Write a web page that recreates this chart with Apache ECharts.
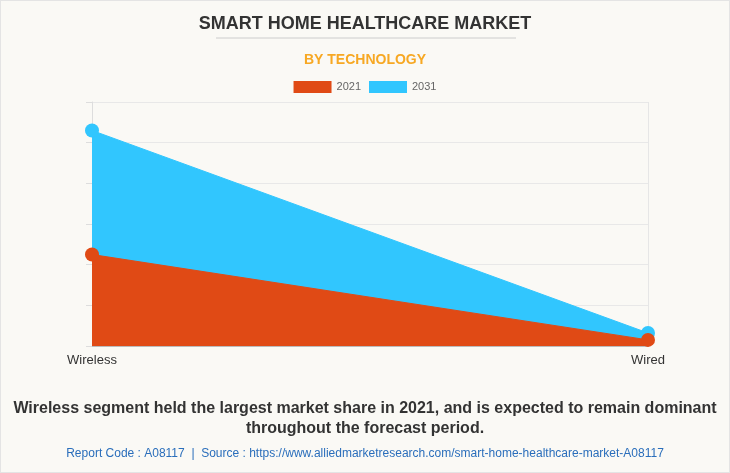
<!DOCTYPE html>
<html>
<head>
  <meta charset="utf-8">
  <title>Smart Home Healthcare Market</title>
  <script src="https://cdn.jsdelivr.net/npm/echarts@6/dist/echarts.min.js"></script>
  <style>
    html, body { margin: 0; padding: 0; background: #fff; }
    #chart { width: 730px; height: 473px; box-sizing: border-box; border: 1px solid #e4e4e4; background: #faf9f5; }
  </style>
</head>
<body>
  <div id="chart"></div>
  <script>
    // data (no y labels, arbitrary units)
    var categories = ['Wireless', 'Wired'];
    var values2021 = [2.25, 0.15];
    var values2031 = [5.3, 0.32];
    var seriesNames = ['2021', '2031'];

    var chart = echarts.init(document.getElementById('chart'));
    var font = '"Liberation Sans", Arial, sans-serif';

    var option = {
      backgroundColor: '#faf9f5',
      title: [
        {
          text: 'SMART HOME HEALTHCARE MARKET',
          left: 'center', top: 9,
          textStyle: { fontFamily: font, fontSize: 18, fontWeight: 'bold', color: '#333' }
        },
        {
          text: 'BY TECHNOLOGY',
          left: 'center', top: 47,
          textStyle: { fontFamily: font, fontSize: 14, fontWeight: 'bold', color: '#f7a823' }
        }
      ],
      legend: {
        data: seriesNames,
        top: 75, left: 'center',
        itemWidth: 38, itemHeight: 12, itemGap: 8,
        icon: 'rect',
        textStyle: { fontFamily: font, fontSize: 11, color: '#666' }
      },
      grid: { left: 91, right: 81, top: 101, bottom: 126 },
      xAxis: {
        type: 'category',
        data: categories,
        boundaryGap: false,
        axisLine: { lineStyle: { color: '#bbb' } },
        axisTick: { show: false },
        axisLabel: { fontFamily: font, fontSize: 13, color: '#333', margin: 8 },
        splitLine: { show: true, lineStyle: { color: '#e6e6e6' } }
      },
      yAxis: {
        type: 'value',
        min: 0, max: 6, interval: 1,
        axisLine: { show: true, lineStyle: { color: '#ddd' } },
        axisTick: { show: true, length: 6, lineStyle: { color: '#ddd' } },
        axisLabel: { show: false },
        splitLine: { lineStyle: { color: '#e8e8e8' } }
      },
      series: [
        {
          name: '2031',
          type: 'line',
          data: values2031,
          z: 2,
          symbol: 'circle', symbolSize: 14,
          itemStyle: { color: '#31c6fe' },
          lineStyle: { width: 1, color: '#31c6fe' },
          areaStyle: { color: '#31c6fe', opacity: 1 }
        },
        {
          name: '2021',
          type: 'line',
          data: values2021,
          z: 3,
          symbol: 'circle', symbolSize: 14,
          itemStyle: { color: '#e04a15' },
          lineStyle: { width: 1, color: '#e04a15' },
          areaStyle: { color: '#e04a15', opacity: 1 }
        }
      ],
      graphic: [
        {
          type: 'line',
          shape: { x1: 215, y1: 37, x2: 515, y2: 37 },
          style: { stroke: '#cccccc', lineWidth: 1 }
        },
        {
          type: 'text',
          left: 'center', top: 398,
          style: {
            text: 'Wireless segment held the largest market share in 2021, and is expected to remain dominant\nthroughout the forecast period.',
            textAlign: 'center',
            font: 'bold 16px ' + font,
            fill: '#333',
            lineHeight: 20
          }
        },
        {
          type: 'text',
          left: 'center', top: 447,
          style: {
            text: 'Report Code : A08117  |  Source : https://www.alliedmarketresearch.com/smart-home-healthcare-market-A08117',
            textAlign: 'center',
            font: '12px ' + font,
            fill: '#2a6ebb'
          }
        }
      ]
    };

    chart.setOption(option);
  </script>
</body>
</html>
